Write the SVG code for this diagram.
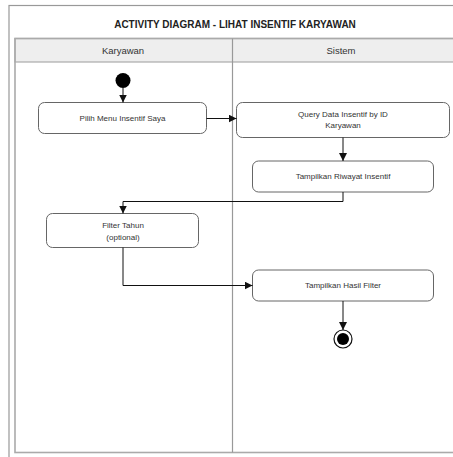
<svg xmlns="http://www.w3.org/2000/svg" width="453" height="457" viewBox="0 0 453 457">
<style>
.frame{fill:none;stroke:#999;stroke-width:1.2}
.pool{fill:none;stroke:#aaa;stroke-width:1.6}
.hdr{fill:#eeeeee;stroke:#aaa;stroke-width:1.2}
.lane{stroke:#999;stroke-width:1.2}
.node rect{fill:#fff;stroke:#666;stroke-width:1}
.t{font-family:"Liberation Sans",Arial,sans-serif;font-size:8px;fill:#333;text-anchor:middle}
.title{font-family:"Liberation Sans",Arial,sans-serif;font-size:10px;font-weight:bold;fill:#222;text-anchor:middle}
.lt{font-family:"Liberation Sans",Arial,sans-serif;font-size:9.5px;fill:#333;text-anchor:middle}
.edge{fill:none;stroke:#111;stroke-width:1;marker-end:url(#arr)}
</style>
<defs>
<marker id="arr" viewBox="0 0 10 10" refX="10" refY="5" markerWidth="8" markerHeight="8" markerUnits="userSpaceOnUse" orient="auto">
<path d="M0,0 L10,5 L0,10 z" fill="#111"/>
</marker>
</defs>
<rect x="0" y="0" width="453" height="457" fill="#fff"/>
<rect class="frame" x="9" y="5.5" width="460" height="470"/>
<text class="title" x="235" y="27.5">ACTIVITY DIAGRAM - LIHAT INSENTIF KARYAWAN</text>
<g id="pool">
<rect class="hdr" x="15" y="38.5" width="445" height="23.5"/>
<rect class="pool" x="15" y="38.5" width="445" height="414"/>
<line class="lane" x1="232.5" y1="38.5" x2="232.5" y2="452.5"/>
<text class="lt" x="123" y="53.5">Karyawan</text>
<text class="lt" x="341" y="53.5">Sistem</text>
</g>
<g id="start">
<circle cx="123" cy="80.5" r="7.5" fill="#000"/>
</g>
<g id="n1" class="node">
<rect x="38.5" y="102.5" width="168" height="31" rx="6"/>
<text class="t" x="122.5" y="120.5">Pilih Menu Insentif Saya</text>
</g>
<g id="n2" class="node">
<rect x="236.5" y="102.5" width="213" height="35" rx="6"/>
<text class="t" x="343" y="117">Query Data Insentif by ID</text>
<text class="t" x="343" y="128">Karyawan</text>
</g>
<g id="n3" class="node">
<rect x="252.5" y="161" width="181" height="31" rx="6"/>
<text class="t" x="343" y="179">Tampilkan Riwayat Insentif</text>
</g>
<g id="n4" class="node">
<rect x="46.5" y="213.5" width="152" height="34" rx="6"/>
<text class="t" x="123" y="228">Filter Tahun</text>
<text class="t" x="123" y="240">(optional)</text>
</g>
<g id="n5" class="node">
<rect x="252.5" y="270" width="181" height="31" rx="6"/>
<text class="t" x="343" y="288">Tampilkan Hasil Filter</text>
</g>
<g id="end">
<circle cx="343" cy="339" r="9" fill="#fff" stroke="#111" stroke-width="1.2"/>
<circle cx="343" cy="339" r="6" fill="#000"/>
</g>
<g id="connectors">
<path class="edge" d="M123,88 L123,102.5"/>
<path class="edge" d="M206.5,118.5 L236.5,118.5"/>
<path class="edge" d="M343,137.5 L343,161"/>
<path class="edge" d="M343,192 L343,201.5 L123,201.5 L123,213.5"/>
<path class="edge" d="M123,247.5 L123,285.5 L252.5,285.5"/>
<path class="edge" d="M343,301 L343,330"/>
</g>
</svg>
